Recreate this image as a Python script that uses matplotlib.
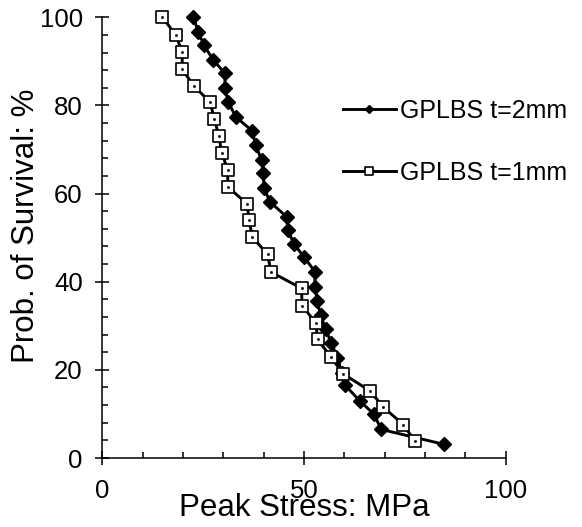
import numpy as np
import matplotlib
matplotlib.use("Agg")
import matplotlib.pyplot as plt
from matplotlib.path import Path
from matplotlib.ticker import MultipleLocator

plt.rcParams['font.family'] = ['Liberation Sans', 'DejaVu Sans']

# Data (peak stress in MPa, survival in %)
stress_2mm = [22.6, 23.8, 25.2, 27.5, 30.4, 30.4, 31.2, 33.1, 37.2, 38.0, 39.5,
              39.9, 40.1, 41.6, 45.7, 46.0, 47.5, 50.1, 52.7, 52.7, 53.3, 54.1,
              55.4, 56.7, 58.3, 59.3, 60.2, 63.9, 67.4, 69.1, 84.7]
surv_2mm = [100.0, 96.6, 93.7, 90.3, 87.3, 83.9, 80.8, 77.4, 74.2, 71.0, 67.6,
            64.6, 61.2, 58.1, 54.7, 51.7, 48.6, 45.5, 42.3, 38.9, 35.7, 32.4,
            29.2, 26.2, 22.8, 19.4, 16.5, 12.9, 9.9, 6.5, 3.1]

stress_1mm = [14.9, 18.2, 19.8, 19.8, 22.8, 26.7, 27.8, 28.9, 29.6, 31.1, 31.1,
              35.9, 36.4, 37.2, 41.0, 41.8, 49.4, 49.5, 52.9, 53.4, 56.6, 59.7,
              66.4, 69.7, 74.6, 77.5]
surv_1mm = [100.0, 96.0, 92.1, 88.2, 84.3, 80.8, 76.9, 73.0, 69.2, 65.4, 61.5,
            57.7, 53.9, 50.1, 46.2, 42.2, 38.5, 34.6, 30.7, 26.9, 23.0, 19.1,
            15.2, 11.5, 7.6, 3.8]

labels = ["GPLBS t=2mm", "GPLBS t=1mm"]

# square marker with a tiny dot inside
outer = [(-1, -1), (1, -1), (1, 1), (-1, 1), (-1, -1)]
d = 0.08
inner = [(-d, -d), (d, -d), (d, d), (-d, d), (-d, -d)]
codes = [Path.MOVETO] + [Path.LINETO] * 3 + [Path.CLOSEPOLY]
dot_square = Path(outer + inner, codes + codes)

fig = plt.figure(figsize=(5.82, 5.27), dpi=100)
ax = fig.add_axes([0.1758, 0.1309, 0.6931, 0.8363])

ax.plot(stress_2mm, surv_2mm, color='black', lw=2.1, marker='D',
        markersize=7, markerfacecolor='black', markeredgecolor='black',
        label=labels[0], zorder=3, clip_on=False)
ax.plot(stress_1mm, surv_1mm, color='black', lw=2.1, marker=dot_square,
        markersize=9, markerfacecolor='white', markeredgecolor='black',
        markeredgewidth=1.2, label=labels[1], zorder=4, clip_on=False)

ax.set_xlim(0, 100)
ax.set_ylim(0, 100)
ax.xaxis.set_major_locator(MultipleLocator(50))
ax.xaxis.set_minor_locator(MultipleLocator(10))
ax.yaxis.set_major_locator(MultipleLocator(20))
ax.yaxis.set_minor_locator(MultipleLocator(4))

for s in ['top', 'right']:
    ax.spines[s].set_visible(False)
for s in ['left', 'bottom']:
    ax.spines[s].set_linewidth(1.1)

ax.tick_params(which='major', direction='inout', length=10, width=1.1,
               labelsize=18.5)
ax.tick_params(which='minor', direction='in', length=4.5, width=1.1)
ax.tick_params(axis='y', which='major', pad=9)
ax.tick_params(axis='x', which='major', pad=10)

ax.set_xlabel("Peak Stress: MPa", fontsize=22.5)
ax.set_ylabel("Prob. of Survival: %", fontsize=22.5)
ax.xaxis.set_label_coords(0.5, -0.08)
ax.yaxis.set_label_coords(-0.152, 0.527)

leg = ax.legend(loc='upper left', bbox_to_anchor=(343 / 582, 1 - 99 / 527),
                bbox_transform=fig.transFigure, frameon=False, fontsize=18,
                handlelength=2.1, handletextpad=0.2, labelspacing=1.5,
                borderpad=0, borderaxespad=0, markerscale=0.65)

fig.savefig("out.png", dpi=100)
